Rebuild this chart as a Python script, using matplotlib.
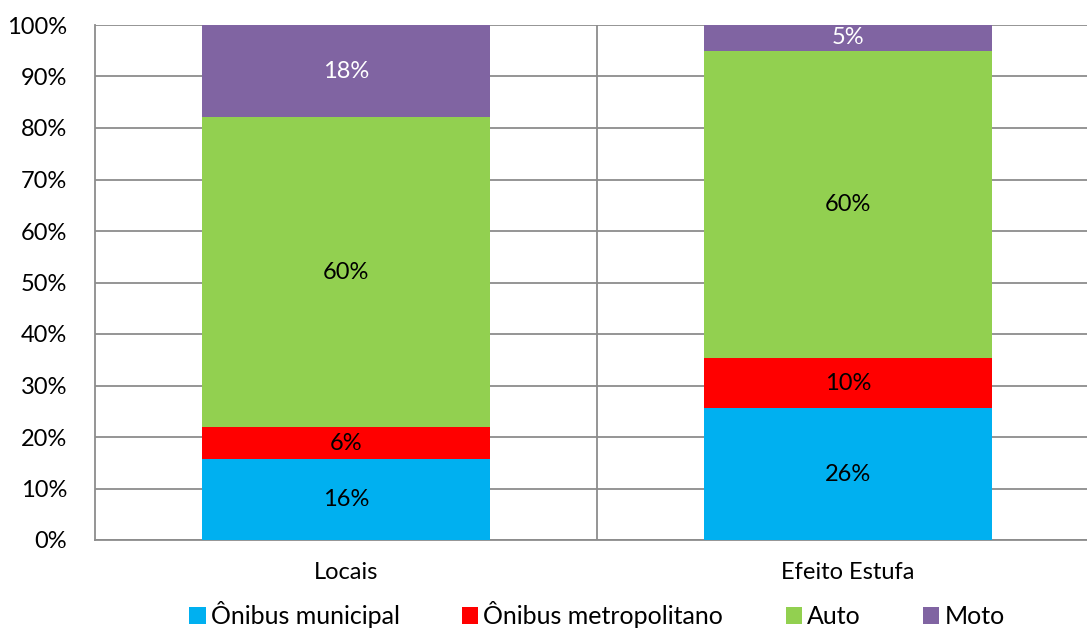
import numpy as np
import matplotlib.pyplot as plt
from matplotlib.ticker import PercentFormatter

plt.rcParams['font.family'] = ['Lato', 'DejaVu Sans']

categories = ['Locais', 'Efeito Estufa']
series = ['Ônibus municipal', 'Ônibus metropolitano', 'Auto', 'Moto']
# shares in percent
onibus_municipal = [15.7, 25.6]
onibus_metropolitano = [6.2, 9.7]
auto = [60.2, 59.7]
moto = [17.9, 5.0]

colors = ['#00B0F0', '#FF0000', '#92D050', '#8064A2']
label_colors = ['black', 'black', 'black', 'white']

fig = plt.figure(figsize=(10.87, 6.28), dpi=100)
ax = fig.add_axes([95 / 1087, 1 - 540 / 628, 1004 / 1087, 515 / 628])

x = np.arange(len(categories))
bottom = np.zeros(len(categories))
for name, vals, c, lc in zip(series, [onibus_municipal, onibus_metropolitano, auto, moto],
                             colors, label_colors):
    vals = np.array(vals)
    ax.bar(x, vals, width=0.574, bottom=bottom, color=c, label=name, zorder=3)
    for xi, b, v in zip(x, bottom, vals):
        ax.text(xi, b + v / 2, f'{v:.0f}%', ha='center', va='center',
                color=lc, fontsize=17, zorder=4)
    bottom += vals

ax.set_xlim(-0.5, 1.5)
ax.set_ylim(0, 100)
ax.set_yticks(np.arange(0, 101, 10))
ax.yaxis.set_major_formatter(PercentFormatter(decimals=0))
ax.set_xticks(x)
ax.set_xticklabels(categories)
ax.tick_params(axis='both', length=0, labelsize=17)
ax.tick_params(axis='y', pad=20)
ax.tick_params(axis='x', pad=16)

ax.grid(axis='y', color='#8c8c8c', lw=1.3, zorder=0)
ax.axvline(0.5, color='#8c8c8c', lw=1.3, zorder=0)
for s in ['top', 'right']:
    ax.spines[s].set_visible(False)
for s in ['left', 'bottom']:
    ax.spines[s].set_color('#8c8c8c')
    ax.spines[s].set_linewidth(1.3)

fig.legend(loc='center', bbox_to_anchor=(597 / 1087, 1 - 615 / 628), ncol=4,
           frameon=False, fontsize=18, handlelength=0.65, handleheight=0.65,
           handletextpad=0.2, columnspacing=2.5, borderpad=0)

fig.savefig('out.png', dpi=100)
